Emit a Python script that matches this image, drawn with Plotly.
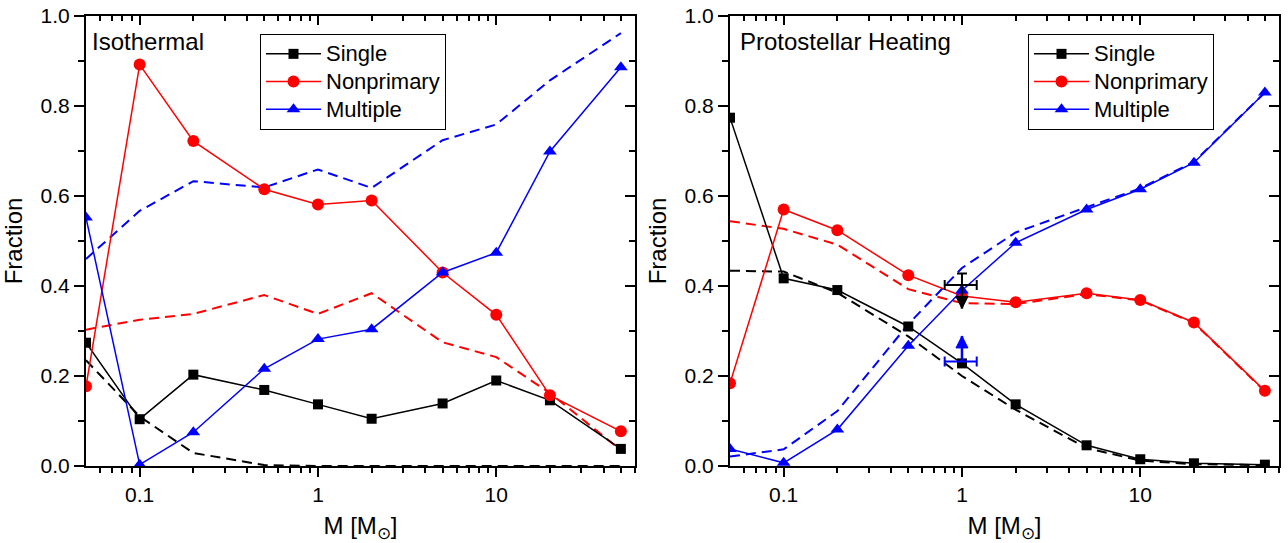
import math
import plotly.graph_objects as go

# ---------------- data ----------------
mass = [0.05, 0.1, 0.2, 0.5, 1, 2, 5, 10, 20, 50]

iso_single = [0.274, 0.104, 0.203, 0.169, 0.137, 0.105, 0.139, 0.190, 0.146, 0.038]
iso_single_dash = [0.235, 0.110, 0.029, 0.002, 0.0, 0.0, 0.0, 0.0, 0.0, 0.0]
iso_nonprim = [0.177, 0.892, 0.722, 0.615, 0.581, 0.590, 0.430, 0.336, 0.157, 0.077]
iso_nonprim_dash = [0.303, 0.325, 0.338, 0.380, 0.338, 0.384, 0.275, 0.242, 0.162, 0.035]
iso_mult = [0.552, 0.003, 0.075, 0.216, 0.282, 0.304, 0.430, 0.474, 0.699, 0.886]
iso_mult_dash = [0.460, 0.567, 0.633, 0.619, 0.659, 0.618, 0.724, 0.759, 0.857, 0.962]

heat_single = [0.774, 0.417, 0.391, 0.310, 0.228, 0.137, 0.046, 0.015, 0.006, 0.003]
heat_single_dash = [0.434, 0.432, 0.385, 0.288, 0.200, 0.125, 0.040, 0.012, 0.004, 0.002]
heat_nonprim = [0.184, 0.570, 0.524, 0.424, 0.378, 0.364, 0.384, 0.369, 0.319, 0.167]
heat_nonprim_dash = [0.544, 0.527, 0.492, 0.393, 0.362, 0.360, 0.382, 0.368, 0.318, 0.166]
heat_mult = [0.038, 0.007, 0.081, 0.267, 0.390, 0.496, 0.570, 0.615, 0.674, 0.830]
heat_mult_dash = [0.021, 0.037, 0.122, 0.315, 0.440, 0.519, 0.575, 0.617, 0.676, 0.830]

# observational points (right panel)
obs_x = [1.0, 1.0]
obs_y = [0.402, 0.232]
obs_xerr_plus = [0.21, 0.21]
obs_xerr_minus = [0.20, 0.20]
obs_single_yerr_up = 0.026
obs_single_limit = 0.350   # upper-limit arrow tip (Single)
obs_mult_limit = 0.289     # lower-limit arrow tip (Multiple)

series_names = ["Single", "Nonprimary", "Multiple"]
panel_labels = ["Isothermal", "Protostellar Heating"]
x_tickvals = [0.1, 1, 10]
x_ticktext = ["0.1", "1", "10"]
x_minor = [0.06, 0.07, 0.08, 0.09, 0.2, 0.3, 0.4, 0.5, 0.6, 0.7, 0.8, 0.9,
           2, 3, 4, 5, 6, 7, 8, 9, 20, 30, 40, 50, 60]
x_range = [0.05, 60]

# ---------------- styling ----------------
FONT = "Liberation Sans, Arial, sans-serif"
colors = ["#000000", "#ff0000", "#0000ff"]
symbols = ["square", "circle", "triangle-up"]
msizes = [10, 12, 12]
LW = 1.5
DLW = 2
DASH = "10px,6px"

W, H = 1288, 543
left_dom = [86 / W, 635 / W]
right_dom = [730 / W, 1279 / W]
y_dom = [(H - 466) / H, (H - 16) / H]

fig = go.Figure()

panels = [
    ("x", "y", "legend", [iso_single, iso_nonprim, iso_mult],
     [iso_single_dash, iso_nonprim_dash, iso_mult_dash]),
    ("x2", "y2", "legend2", [heat_single, heat_nonprim, heat_mult],
     [heat_single_dash, heat_nonprim_dash, heat_mult_dash]),
]

for xa, ya, leg, solids, dashes in panels:
    for i in range(3):
        fig.add_trace(go.Scatter(
            x=mass, y=dashes[i], mode="lines", xaxis=xa, yaxis=ya,
            line=dict(color=colors[i], width=DLW, dash=DASH),
            showlegend=False, hoverinfo="skip"))
    for i in range(3):
        fig.add_trace(go.Scatter(
            x=mass, y=solids[i], mode="lines+markers", xaxis=xa, yaxis=ya,
            name="<span style='font-size:22px'>%s</span>" % series_names[i],
            legend=leg,
            line=dict(color=colors[i], width=LW),
            marker=dict(symbol=symbols[i], size=msizes[i], color=colors[i])))

# observational error bars
limits = [obs_single_limit, obs_mult_limit]
arrows = ["arrow-down", "arrow-up"]
for k, col in enumerate([colors[0], colors[2]]):
    ey = dict(type="data", symmetric=False, array=[obs_single_yerr_up], arrayminus=[0],
              color=col, thickness=2, width=5) if k == 0 else dict(visible=False)
    fig.add_trace(go.Scatter(
        x=[obs_x[k]], y=[obs_y[k]], mode="markers", xaxis="x2", yaxis="y2",
        marker=dict(size=1, color=col), showlegend=False, hoverinfo="skip",
        error_x=dict(type="data", symmetric=False, array=[obs_xerr_plus[k]],
                     arrayminus=[obs_xerr_minus[k]], color=col, thickness=2, width=5),
        error_y=ey))
    # limit stem
    fig.add_trace(go.Scatter(
        x=[obs_x[k], obs_x[k]], y=[obs_y[k], limits[k]], mode="lines",
        xaxis="x2", yaxis="y2", showlegend=False, hoverinfo="skip",
        line=dict(color=col, width=2.5)))
    # arrow head
    fig.add_trace(go.Scatter(
        x=[obs_x[k]], y=[limits[k]], mode="markers",
        xaxis="x2", yaxis="y2", showlegend=False, hoverinfo="skip",
        marker=dict(symbol=arrows[k], size=12, color=col, opacity=1,
                    line=dict(width=1, color=col))))

# dummy traces for mirrored (inside-tick) axes
for xa, ya in [("x3", "y3"), ("x4", "y4")]:
    fig.add_trace(go.Scatter(x=[None], y=[None], xaxis=xa, yaxis=ya,
                             showlegend=False, hoverinfo="skip"))

lr = [math.log10(x_range[0]), math.log10(x_range[1])]


def xaxis_main(dom):
    return dict(
        domain=dom, type="log", range=lr, showgrid=False, zeroline=False,
        automargin=False,
        showline=True, linecolor="black", linewidth=2, mirror=True,
        ticks="outside", ticklen=9, tickwidth=1.5, tickcolor="black",
        tickmode="array", tickvals=x_tickvals, ticktext=x_ticktext,
        tickfont=dict(size=21, color="black", family=FONT),
        minor=dict(tickmode="array", tickvals=x_minor, ticks="outside",
                   ticklen=5, tickwidth=1.5, tickcolor="black", showgrid=False),
        title=dict(text="M [M<sub>⊙</sub>]", font=dict(size=24, color="black", family=FONT),
                   standoff=12),
    )


def yaxis_main(anchor):
    return dict(
        domain=y_dom, anchor=anchor, range=[0, 1], showgrid=False, zeroline=False,
        automargin=False,
        showline=True, linecolor="black", linewidth=2, mirror=True,
        ticks="outside", ticklen=10, tickwidth=1.5, tickcolor="black",
        dtick=0.2, tick0=0, tickformat=".1f",
        tickfont=dict(size=21, color="black", family=FONT),
        minor=dict(dtick=0.1, tick0=0, ticks="outside", ticklen=6, tickwidth=1.5,
                   tickcolor="black", showgrid=False),
        title=dict(text="Fraction", font=dict(size=24, color="black", family=FONT),
                   standoff=11),
    )


def xaxis_top(over, anchor, dom):
    return dict(
        domain=dom, overlaying=over, anchor=anchor, side="top", type="log", range=lr,
        automargin=False,
        showgrid=False, zeroline=False, showline=False, showticklabels=False,
        ticks="inside", ticklen=9, tickwidth=1.5, tickcolor="black",
        tickmode="array", tickvals=x_tickvals,
        minor=dict(tickmode="array", tickvals=x_minor, ticks="inside",
                   ticklen=5, tickwidth=1.5, tickcolor="black", showgrid=False),
    )


def yaxis_right(over, anchor):
    return dict(
        domain=y_dom, overlaying=over, anchor=anchor, side="right", range=[0, 1],
        automargin=False,
        showgrid=False, zeroline=False, showline=False, showticklabels=False,
        ticks="inside", ticklen=10, tickwidth=1.5, tickcolor="black",
        dtick=0.2, tick0=0,
        minor=dict(dtick=0.1, tick0=0, ticks="inside", ticklen=6, tickwidth=1.5,
                   tickcolor="black", showgrid=False),
    )


leg_common = dict(
    xanchor="left", yanchor="top", bordercolor="black", borderwidth=1,
    bgcolor="white", font=dict(size=19, color="black", family=FONT),
    itemwidth=55, tracegroupgap=0, traceorder="normal",
)

fig.update_layout(
    width=W, height=H,
    margin=dict(l=0, r=0, t=0, b=0, autoexpand=False),
    paper_bgcolor="white", plot_bgcolor="white",
    font=dict(family=FONT, color="black"),
    xaxis=dict(anchor="y", **xaxis_main(left_dom)),
    yaxis=yaxis_main("x"),
    xaxis2=dict(anchor="y2", **xaxis_main(right_dom)),
    yaxis2=yaxis_main("x2"),
    xaxis3=xaxis_top("x", "y3", left_dom),
    yaxis3=yaxis_right("y", "x3"),
    xaxis4=xaxis_top("x2", "y4", right_dom),
    yaxis4=yaxis_right("y2", "x4"),
    legend=dict(x=260 / W, y=1 - 34 / H, **leg_common),
    legend2=dict(x=1028 / W, y=1 - 34 / H, **leg_common),
    annotations=[
        dict(text=panel_labels[0], xref="paper", yref="paper", x=90 / W, y=1 - 41 / H,
             xanchor="left", yanchor="middle", showarrow=False,
             font=dict(size=24, color="black", family=FONT)),
        dict(text=panel_labels[1], xref="paper", yref="paper", x=738 / W, y=1 - 41 / H,
             xanchor="left", yanchor="middle", showarrow=False,
             font=dict(size=24, color="black", family=FONT)),
    ],
    showlegend=True,
)

fig.write_html("out.html")
